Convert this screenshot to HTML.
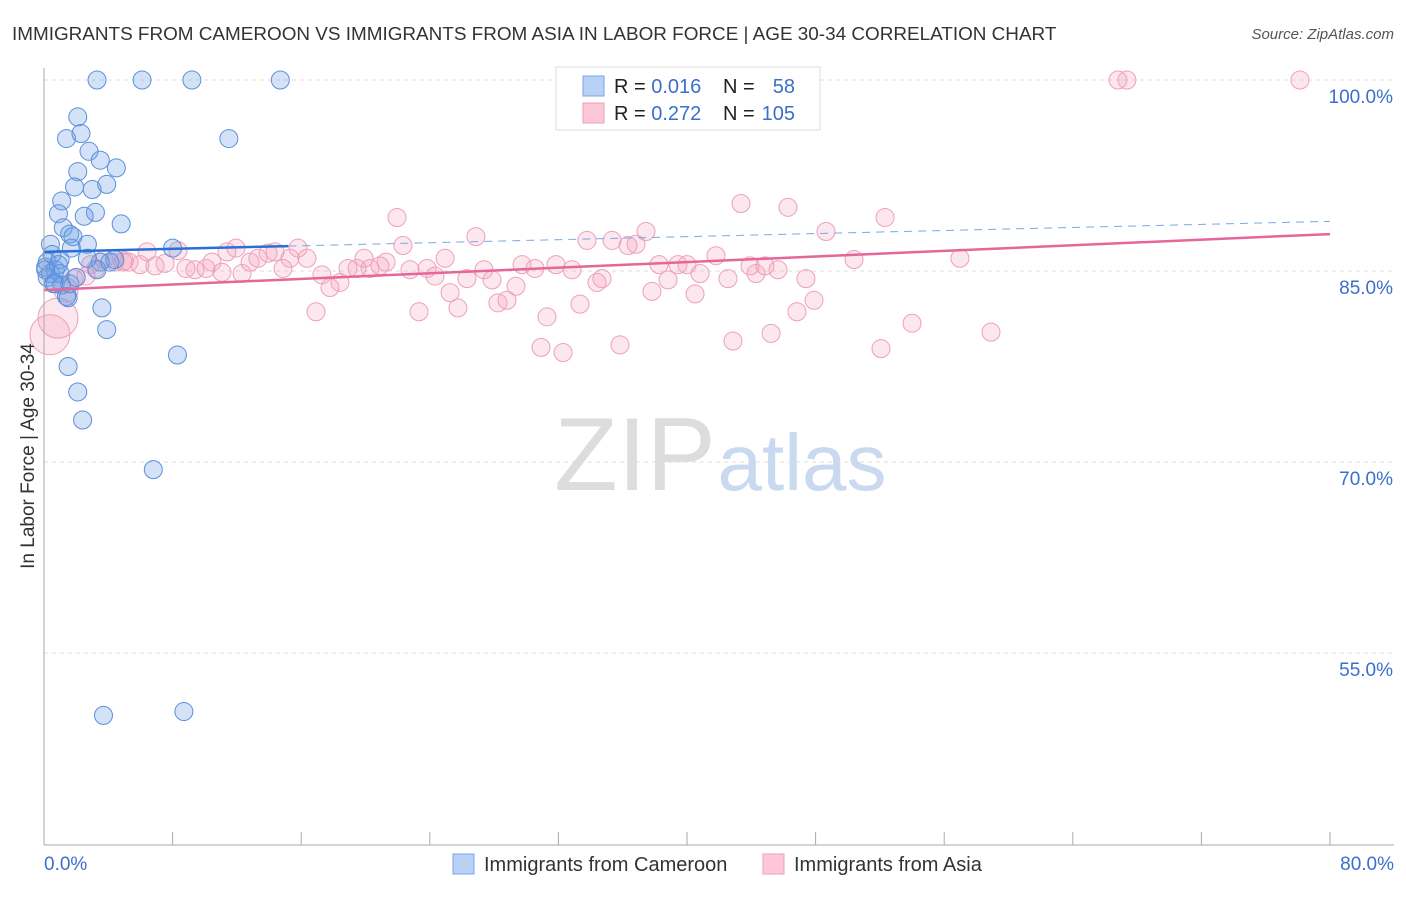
<!DOCTYPE html>
<html><head><meta charset="utf-8"><style>
body{margin:0;background:#fff;font-family:"Liberation Sans",sans-serif;}
svg text{font-family:"Liberation Sans",sans-serif;}
</style></head><body>
<svg id="chart" width="1406" height="892" xmlns="http://www.w3.org/2000/svg">
<text x="12" y="40" font-size="18.9" fill="#333">IMMIGRANTS FROM CAMEROON VS IMMIGRANTS FROM ASIA IN LABOR FORCE | AGE 30-34 CORRELATION CHART</text>
<text x="1394" y="39" font-size="15" fill="#555" text-anchor="end" font-style="italic">Source: ZipAtlas.com</text>
<g>
<text x="635" y="490" font-size="104" fill="#ddd" text-anchor="middle" font-family="Liberation Serif">ZIP</text>
<text x="802" y="490" font-size="80" fill="#c8d9f0" text-anchor="middle">atlas</text>
</g>
<g id="grid"></g><g id="marks"></g><g id="axes"></g>
<text transform="translate(34,456) rotate(-90)" font-size="19" fill="#333" text-anchor="middle">In Labor Force | Age 30-34</text>
<g>
<rect x="556" y="67" width="264" height="63" fill="#fff" stroke="#ddd"/>
<rect x="583" y="76" width="21" height="20" fill="#b8d1f5" stroke="#7aa6e6"/>
<rect x="583" y="103" width="21" height="20" fill="#fcc8d8" stroke="#ee9db8"/>
<text x="614" y="93" font-size="20" fill="#222">R = <tspan fill="#3b6fcc">0.016</tspan></text>
<text x="723" y="93" font-size="20" fill="#222">N =</text>
<text x="795" y="93" font-size="20" fill="#3b6fcc" text-anchor="end">58</text>
<text x="614" y="120" font-size="20" fill="#222">R = <tspan fill="#3b6fcc">0.272</tspan></text>
<text x="723" y="120" font-size="20" fill="#222">N =</text>
<text x="795" y="120" font-size="20" fill="#3b6fcc" text-anchor="end">105</text>
</g>
<g>
<rect x="453" y="854" width="21" height="20" fill="#b8d1f5" stroke="#7aa6e6"/>
<text x="484" y="871" font-size="20" fill="#333">Immigrants from Cameroon</text>
<rect x="763" y="854" width="21" height="20" fill="#fcc8d8" stroke="#ee9db8"/>
<text x="794" y="871" font-size="20" fill="#333">Immigrants from Asia</text>
</g>
</svg>
<script>
const yTicks=[100,85,70,55];
const yTickLabels=["100.0%","85.0%","70.0%","55.0%"];
const xTickLabels=["0.0%","80.0%"];
const camX=[3.3,6.1,9.2,14.7,2.1,1.4,2.3,11.5,2.8,3.5,4.5,2.1,1.9,3.0,3.9,1.1,0.9,3.2,2.5,4.8,1.2,1.6,1.8,2.7,0.4,1.7,4.4,1.0,0.2,8.0,0.1,0.7,0.4,1.0,0.2,1.1,3.5,3.3,0.7,1.5,3.6,3.9,8.3,1.5,2.1,2.4,6.8,3.7,8.7,1.4,0.5,0.9,4.1,2.7,0.1,0.6,1.6,2.0];
const camY=[100,100,100,100,97.1,95.4,95.8,95.4,94.4,93.7,93.1,92.8,91.6,91.4,91.8,90.5,89.5,89.6,89.3,88.7,88.4,87.9,87.7,87.1,87.1,86.8,85.9,85.9,85.7,86.8,85.3,85.1,84.8,84.8,84.5,83.9,85.7,85.1,84.0,82.9,82.1,80.4,78.4,77.5,75.5,73.3,69.4,50.1,50.4,83.0,86.3,85.5,85.7,86.0,85.1,84.0,84.0,84.5];
const asiaX=[
0.37,0.87,1.37,1.87,2.61,3.23,4.42,5.29,5.97,6.91,
7.53,6.41,8.34,8.83,9.39,10.08,10.45,11.07,11.38,11.94,
12.32,12.82,13.31,13.94,14.37,14.87,15.30,15.80,16.36,16.92,
17.29,17.79,18.41,18.91,19.47,19.91,20.28,20.90,21.28,21.96,
22.33,22.77,23.33,23.83,24.32,24.95,25.26,25.75,26.31,26.87,
27.37,27.87,28.24,28.80,29.36,29.74,30.54,30.92,31.29,31.85,
32.29,32.85,33.34,33.78,34.40,34.71,35.34,35.83,36.33,36.83,
37.45,37.82,38.26,38.82,39.44,40.00,40.50,40.81,41.80,42.55,
42.86,43.36,43.92,44.29,44.85,45.23,45.66,46.28,46.84,47.40,
47.90,48.65,50.39,52.07,52.32,54.00,56.98,58.91,66.81,67.37,
78.13,3.73,4.91,2.9,5.0];
const asiaY=[
80.0,81.3,83.5,84.4,84.6,85.2,85.7,85.7,85.5,85.4,
85.6,86.5,86.6,85.2,85.1,85.2,85.7,84.9,86.5,86.8,
84.8,85.7,86.0,86.4,86.5,85.2,86.0,86.8,86.0,81.8,
84.7,83.7,84.1,85.2,85.2,86.0,85.2,85.4,85.7,89.2,
87.0,85.1,81.8,85.2,84.6,86.0,83.3,82.1,84.4,87.7,
85.1,84.3,82.5,82.7,83.8,85.5,85.2,79.0,81.4,85.5,
78.6,85.1,82.4,87.4,84.1,84.4,87.4,79.2,87.0,87.1,
88.1,83.4,85.5,84.3,85.5,85.5,83.2,84.8,86.2,84.4,
79.5,90.3,85.4,84.8,85.4,80.1,85.1,90.0,81.8,84.4,
82.7,88.1,85.9,78.9,89.2,80.9,86.0,80.2,100,100,
100,85.9,85.7,85.5,85.8];
const camTrend=[86.5,88.9];   // value at 0% and 80%
const asiaTrend=[83.5,87.9];
const xs=v=>44+v/80*1286, ys=v=>80+(100-v)*12.733;
const NS="http://www.w3.org/2000/svg";
function mk(tag,attrs,parent){const e=document.createElementNS(NS,tag);for(const k in attrs)e.setAttribute(k,attrs[k]);parent.appendChild(e);return e;}
const grid=document.getElementById('grid'),marks=document.getElementById('marks'),axes=document.getElementById('axes');
yTicks.forEach((t,i)=>{
 const l=mk('line',{x1:44,x2:1394,y1:ys(t),y2:ys(t),stroke:'#ddd','stroke-dasharray':'4,4'},grid);
 
 
 const tx=mk('text',{x:1393,y:ys(t)+23,'font-size':19,fill:'#3b6fcc','text-anchor':'end'},axes);
 tx.textContent=yTickLabels[i];
 
 
});
const la=mk('line',{x1:44,x2:44,y1:68,y2:845,stroke:'#aaa'},axes);


const lb=mk('line',{x1:44,x2:1394,y1:845,y2:845,stroke:'#aaa'},axes);


for(let i=0;i<=10;i++){
 const t=mk('line',{x1:xs(i*8),x2:xs(i*8),y1:832,y2:845,stroke:'#aaa'},axes);
 
 
}
[[0,'start',44],[80,'end',1394]].forEach((d,i)=>{
 const tx=mk('text',{x:d[2],y:870,'font-size':19,fill:'#3b6fcc','text-anchor':d[1]},axes);
 tx.textContent=xTickLabels[i];
 
 
});
asiaX.forEach((x,i)=>{
 const r=i<2?20:(i<3?12:9);
 const c=mk('circle',{cx:xs(x),cy:ys(asiaY[i]),r:r,fill:'rgba(244,160,188,0.25)',stroke:'#eea0ba','stroke-width':1},marks);
 
 
});
camX.forEach((x,i)=>{
 const c=mk('circle',{cx:xs(x),cy:ys(camY[i]),r:9,fill:'rgba(110,160,230,0.3)',stroke:'#5b8fdb','stroke-width':1},marks);
 
 
});
const cv=x=>camTrend[0]+(camTrend[1]-camTrend[0])*x/80;
const t1=mk('line',{x1:xs(0),y1:ys(cv(0)),x2:xs(15.2),y2:ys(cv(15.2)),stroke:'#2a6fd6','stroke-width':2.5},marks);


const t2=mk('line',{x1:xs(15.2),y1:ys(cv(15.2)),x2:xs(80),y2:ys(cv(80)),stroke:'#7aa6e6','stroke-width':1,'stroke-dasharray':'8,6'},marks);


const t3=mk('line',{x1:xs(0),y1:ys(asiaTrend[0]),x2:xs(80),y2:ys(asiaTrend[1]),stroke:'#e5669a','stroke-width':2.5},marks);


</script>
</body></html>
